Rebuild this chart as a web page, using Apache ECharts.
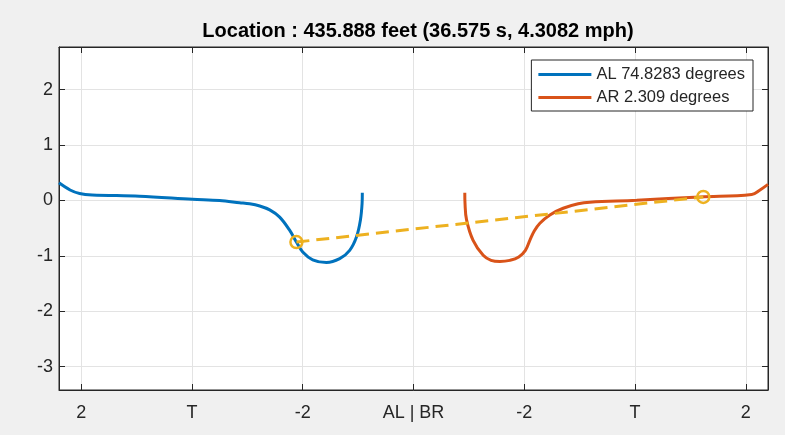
<!DOCTYPE html>
<html>
<head>
<meta charset="utf-8">
<script src="https://cdn.jsdelivr.net/npm/echarts@6/dist/echarts.min.js"></script>
<style>
html,body{margin:0;padding:0;background:#f0f0f0;}
#c{width:785px;height:435px;}
</style>
</head>
<body>
<div id="c"></div>
<script>
const titleText = 'Location : 435.888 feet (36.575 s, 4.3082 mph)';
const xTickValues = [-3, -2, -1, 0, 1, 2, 3];
const xTickLabels = ['2', 'T', '-2', 'AL | BR', '-2', 'T', '2'];
const yTickValues = [-3, -2, -1, 0, 1, 2];
const xRange = [-3.2, 3.2];
const yRange = [-3.42, 2.77];

const alName = 'AL 74.8283 degrees';
const alX = [-3.2, -3.1, -3.014, -2.9, -2.473, -1.994, -1.75, -1.569, -1.479, -1.388, -1.298, -1.208, -1.117, -1.057, -1.0, -0.91, -0.786, -0.666, -0.576, -0.515, -0.479, -0.464, -0.462];
const alY = [0.32, 0.19, 0.126, 0.10, 0.077, 0.023, 0.0, -0.04, -0.06, -0.10, -0.17, -0.3, -0.54, -0.75, -0.93, -1.07, -1.12, -1.05, -0.9, -0.66, -0.35, -0.05, 0.14];

const arName = 'AR 2.309 degrees';
const arX = [0.463, 0.465, 0.479, 0.538, 0.629, 0.70, 0.78, 0.87, 0.95, 1.01, 1.05, 1.09, 1.141, 1.231, 1.351, 1.487, 1.592, 2.014, 2.586, 3.053, 3.128, 3.2];
const arY = [0.14, -0.05, -0.35, -0.72, -0.99, -1.08, -1.10, -1.08, -1.02, -0.90, -0.72, -0.55, -0.41, -0.26, -0.14, -0.06, -0.03, 0.005, 0.065, 0.11, 0.19, 0.29];

const linkX = [-1.057, 2.616];
const linkY = [-0.75, 0.065];

const zip = (xs, ys) => xs.map((x, i) => [x, ys[i]]);
const labelMap = {};
xTickValues.forEach((v, i) => { labelMap[String(v)] = xTickLabels[i]; });

const FONT = 'Liberation Sans';
const AX = '#262626';

const chart = echarts.init(document.getElementById('c'));
const baseAxis = {
  axisLine: { show: true, onZero: false, lineStyle: { color: AX, width: 1 } },
  axisTick: { show: true, inside: true, length: 6, lineStyle: { color: AX, width: 1 } },
};
chart.setOption({
  backgroundColor: '#f0f0f0',
  animation: false,
  title: {
    text: titleText,
    left: 413, top: 16,
    textAlign: 'center',
    textStyle: { fontFamily: FONT, fontSize: 20, fontWeight: 'bold', color: '#000' }
  },
  legend: {
    orient: 'vertical',
    right: 32, top: 60,
    data: [{ name: alName, icon: 'rect' }, { name: arName, icon: 'rect' }],
    itemWidth: 53, itemHeight: 3, itemGap: 6,
    padding: [6, 8, 5, 7],
    backgroundColor: '#fff',
    borderColor: AX, borderWidth: 1,
    textStyle: { fontFamily: FONT, fontSize: 16.5, color: AX }
  },
  grid: {
    left: 59, right: 17, top: 47, bottom: 45,
    show: true, backgroundColor: '#fff', borderColor: AX, borderWidth: 1
  },
  xAxis: [
    Object.assign({}, baseAxis, {
      type: 'value', min: xRange[0], max: xRange[1], position: 'bottom',
      axisTick: Object.assign({}, baseAxis.axisTick, { customValues: xTickValues }),
      axisLabel: { customValues: xTickValues, formatter: v => labelMap[String(v)] ?? '', fontFamily: FONT, fontSize: 18, color: AX, margin: 14 },
      splitLine: { show: true, lineStyle: { color: '#e3e3e3', width: 1 } }
    }),
    Object.assign({}, baseAxis, {
      type: 'value', min: xRange[0], max: xRange[1], position: 'top',
      axisTick: Object.assign({}, baseAxis.axisTick, { customValues: xTickValues }),
      axisLabel: { show: false }, splitLine: { show: false }
    })
  ],
  yAxis: [
    Object.assign({}, baseAxis, {
      type: 'value', min: yRange[0], max: yRange[1], position: 'left',
      axisTick: Object.assign({}, baseAxis.axisTick, { customValues: yTickValues }),
      axisLabel: { customValues: yTickValues, fontFamily: FONT, fontSize: 18, color: AX, margin: 6 },
      splitLine: { show: true, lineStyle: { color: '#e3e3e3', width: 1 } }
    }),
    Object.assign({}, baseAxis, {
      type: 'value', min: yRange[0], max: yRange[1], position: 'right',
      axisTick: Object.assign({}, baseAxis.axisTick, { customValues: yTickValues }),
      axisLabel: { show: false }, splitLine: { show: false }
    })
  ],
  series: [
    {
      name: alName, type: 'line', data: zip(alX, alY), smooth: 0.35,
      showSymbol: false, color: '#0072BD', lineStyle: { width: 3, color: '#0072BD' }
    },
    {
      name: arName, type: 'line', data: zip(arX, arY), smooth: 0.4,
      showSymbol: false, color: '#D95319', lineStyle: { width: 3, color: '#D95319' }
    },
    {
      name: 'link', type: 'line', data: zip(linkX, linkY),
      symbol: 'circle', symbolSize: 12, showSymbol: true,
      lineStyle: { width: 3, color: '#EDB120', type: [13, 7] },
      itemStyle: { color: 'rgba(0,0,0,0)', borderColor: '#EDB120', borderWidth: 2.5 }
    }
  ]
});
</script>
</body>
</html>
